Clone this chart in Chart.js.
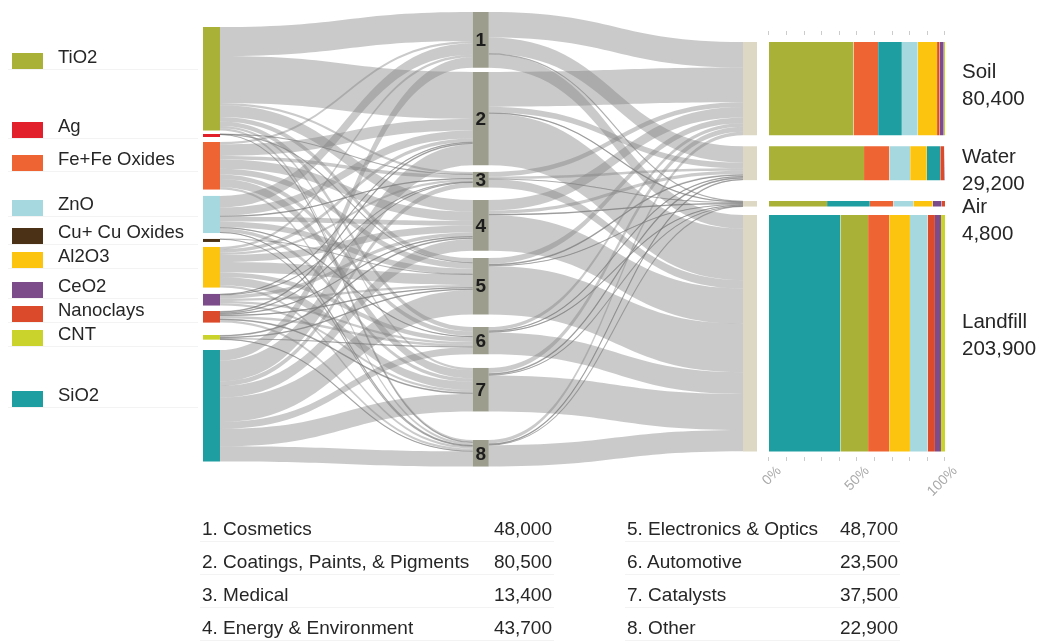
<!DOCTYPE html>
<html>
<head>
<meta charset="utf-8">
<title>Global flows of engineered nanomaterials</title>
<script src="https://cdn.jsdelivr.net/npm/chart.js"></script>
<style>
  body { margin: 0; background: #fff; font-family: "Liberation Sans", Arial, Helvetica, sans-serif; color: #262626; }
  #wrap { position: relative; width: 1041px; height: 641px; overflow: hidden; }
  #chart { position: absolute; left: 0; top: 0; }
  .key { position: absolute; left: 12px; width: 31px; height: 16px; }
  .keyText { position: absolute; left: 58px; font-size: 18.5px; line-height: 20px; white-space: nowrap; }
  .rule { position: absolute; height: 1px; background: #f3f3f3; }
  .row { position: absolute; font-size: 19px; line-height: 32.9px; white-space: nowrap; }
  .comp { position: absolute; left: 962px; font-size: 20.5px; line-height: 27px; white-space: nowrap; }
</style>
</head>
<body>
<div id="wrap">
  <canvas id="chart" width="1041" height="641"></canvas>
  <div id="legend"></div>
  <div id="table"></div>
  <div id="comps"></div>
</div>
<script>
// nanomaterials, top to bottom on the left
const materials = ['TiO2', 'Ag', 'Fe+Fe Oxides', 'ZnO', 'Cu+ Cu Oxides', 'Al2O3', 'CeO2', 'Nanoclays', 'CNT', 'SiO2'];
const materialColors = ['#a9b236', '#e2202b', '#ee6432', '#a6d8df', '#4b3217', '#fcc30f', '#7c4b89', '#db4a2b', '#c9d32b', '#1f9ea2'];

// applications (middle column)
const apps = ['Cosmetics', 'Coatings, Paints, & Pigments', 'Medical', 'Energy & Environment',
  'Electronics & Optics', 'Automotive', 'Catalysts', 'Other'];
const appTotals = [48000, 80500, 13400, 43700, 48700, 23500, 37500, 22900];

// material -> application, thousand t per year
const tio2Use = [25, 40.5, 2, 10, 4, 3.8, 2, 2];
const agUse = [0, 0, 0.3, 0, 0.1, 0, 0, 0.2];
const feUse = [2, 10, 3, 8, 5, 4, 7, 2];
const znoUse = [10, 7, 1, 4, 5, 1, 3, 1];
const cuUse = [0, 0, 0, 0, 0.1, 0, 0, 0.2];
const al2o3Use = [2, 3, 2, 6, 9, 4, 7, 2];
const ceo2Use = [0, 0.5, 0.5, 3, 2, 2, 2, 0];
const clayUse = [0, 1.5, 0.6, 1.2, 1, 2.2, 1.5, 2];
const cntUse = [0, 0, 0, 1.5, 1.5, 0.5, 0, 0.5];
const sio2Use = [9, 18, 4, 10, 21, 6, 15, 13];
const useFlows = [tio2Use, agUse, feUse, znoUse, cuUse, al2o3Use, ceo2Use, clayUse, cntUse, sio2Use];

// end of life compartments
const compartments = ['Soil', 'Water', 'Air', 'Landfill'];
const compartmentTotals = [80400, 29200, 4800, 203900];

// application -> compartment (soil, water, air, landfill), thousand t per year
const cosmeticsFate = [22, 14, 0.3, 11.7];
const coatingsFate = [30, 5, 1, 44.5];
const medicalFate = [4, 2, 0.2, 7.2];
const energyFate = [9, 3, 1.2, 30.5];
const electronicsFate = [5, 1.5, 0.5, 41.7];
const automotiveFate = [3, 1, 0.8, 18.7];
const catalystsFate = [4.4, 1.5, 0.5, 31.1];
const otherFate = [3, 1.2, 0.3, 18.4];
const fateFlows = [cosmeticsFate, coatingsFate, medicalFate, energyFate, electronicsFate, automotiveFate, catalystsFate, otherFate];

// material mix of each compartment, % (left to right)
const soilMix = ['TiO2', 'Fe+Fe Oxides', 'SiO2', 'ZnO', 'Al2O3', 'Nanoclays', 'CeO2', 'CNT'];
const soilShare = [48, 14, 13.5, 9, 11, 1.5, 2.3, 0.7];
const waterMix = ['TiO2', 'Fe+Fe Oxides', 'ZnO', 'Al2O3', 'SiO2', 'Nanoclays', 'CeO2'];
const waterShare = [54, 14.4, 11.8, 9.5, 7.6, 2.3, 0.4];
const airMix = ['TiO2', 'SiO2', 'Fe+Fe Oxides', 'ZnO', 'Al2O3', 'CeO2', 'Nanoclays'];
const airShare = [33, 24.3, 13.3, 11.4, 11, 5.1, 1.9];
const landfillMix = ['SiO2', 'TiO2', 'Fe+Fe Oxides', 'Al2O3', 'ZnO', 'Nanoclays', 'CeO2', 'CNT'];
const landfillShare = [40.6, 15.7, 12, 11.8, 10, 4.2, 3.4, 2.3];
const pctTicks = [0, 10, 20, 30, 40, 50, 60, 70, 80, 90, 100];

// layout (y in thousand t, 1.16 px each)
const PX_PER_KT = 1.16;
const nodeWidths = [17, 16, 14];
const leftStart = 23.3, leftGaps = [2.9, 6.3, 5.5, 5.1, 6.6, 5.5, 4.7, 10.7, 9.0];
const midStart = 10.3, midGaps = [3.7, 5.7, 10.8, 6.3, 10.8, 11.8, 24.6];
const rightStart = 36.2, rightGaps = [9.5, 18, 7.2];
const legendTop = [53, 122, 155, 200, 228, 252, 282, 306, 330, 391];
const compLabelTop = [57, 142, 192, 307];
const RIBBON = 'rgba(128,128,128,0.42)';

const sum = a => a.reduce((s, v) => s + v, 0);
const fmt = v => v.toLocaleString('en-US');

function stack(sizes, start, gaps) {
  let pos = start;
  return sizes.map((s, i) => {
    const n = {start: pos, end: pos + s};
    pos += s + (gaps[i] || 0);
    return n;
  });
}

const leftNodes = stack(useFlows.map(sum), leftStart, leftGaps);
const midNodes = stack(appTotals.map(v => v / 1000), midStart, midGaps);
const rightNodes = stack(compartmentTotals.map(v => v / 1000), rightStart, rightGaps);

// ribbons: leave sorted by target, arrive sorted by source
function buildLinks(matrix, src, tgt) {
  const out = src.map(n => n.start);
  const inn = tgt.map(n => n.start);
  const grid = matrix.map((row, i) => row.map(w => {
    if (w <= 0) return null;
    const l = {w, s: out[i], t: 0};
    out[i] += w;
    return l;
  }));
  tgt.forEach((n, j) => grid.forEach(row => {
    if (row[j]) { row[j].t = inn[j]; inn[j] += row[j].w; }
  }));
  return grid.flat().filter(Boolean);
}
const useLinks = buildLinks(useFlows, leftNodes, midNodes);
const fateLinks = buildLinks(fateFlows, midNodes, rightNodes);

const nodeSet = (stage, nodes, colors) => ({
  type: 'bar', xAxisID: 'x', yAxisID: 'y', grouped: false,
  maxBarThickness: nodeWidths[stage], minBarLength: 3,
  backgroundColor: colors, borderWidth: 0,
  data: nodes.map(n => ({x: stage, y: [n.start, n.end]}))
});

const shareSets = [];
[[soilMix, soilShare], [waterMix, waterShare], [airMix, airShare], [landfillMix, landfillShare]].forEach(([mix, share], c) => {
  const node = rightNodes[c];
  let acc = 0;
  mix.forEach((m, k) => {
    shareSets.push({
      type: 'line', xAxisID: 'xp', yAxisID: 'y',
      data: [{x: acc, y: node.start}, {x: acc + share[k], y: node.start}],
      fill: {value: node.end},
      backgroundColor: materialColors[materials.indexOf(m)],
      borderColor: 'rgba(0,0,0,0)', borderWidth: 0, pointRadius: 0
    });
    acc += share[k];
  });
});

const ribbonPlugin = {
  id: 'ribbons',
  beforeDatasetsDraw(chart) {
    const {ctx, scales} = chart;
    const py = v => scales.y.getPixelForValue(v);
    ctx.save();
    [[useLinks, 0, 1], [fateLinks, 1, 2]].forEach(([links, a, b]) => {
      const x0 = scales.x.getPixelForValue(a) + nodeWidths[a] / 2;
      const x1 = scales.x.getPixelForValue(b) - nodeWidths[b] / 2;
      const xm = (x0 + x1) / 2;
      links.forEach(l => {
        const y0 = py(l.s), y1 = py(l.s + l.w), y2 = py(l.t), y3 = py(l.t + l.w);
        ctx.beginPath();
        ctx.moveTo(x0, y0);
        ctx.bezierCurveTo(xm, y0, xm, y2, x1, y2);
        ctx.lineTo(x1, y3);
        ctx.bezierCurveTo(xm, y3, xm, y1, x0, y1);
        ctx.closePath();
        ctx.fillStyle = RIBBON;
        ctx.fill();
        if (y1 - y0 < 2) {
          const c0 = (y0 + y1) / 2, c1 = (y2 + y3) / 2;
          ctx.beginPath();
          ctx.moveTo(x0, c0);
          ctx.bezierCurveTo(xm, c0, xm, c1, x1, c1);
          ctx.lineWidth = 1.1;
          ctx.strokeStyle = 'rgba(110,110,110,0.5)';
          ctx.stroke();
        }
      });
    });
    ctx.restore();
  },
  afterDatasetsDraw(chart) {
    const {ctx, scales} = chart;
    ctx.save();
    ctx.font = 'bold 19px "Liberation Sans", Arial, sans-serif';
    ctx.fillStyle = '#1d1d1d';
    ctx.textAlign = 'center';
    ctx.textBaseline = 'middle';
    midNodes.forEach((n, i) => {
      ctx.fillText(String(i + 1), scales.x.getPixelForValue(1), scales.y.getPixelForValue((n.start + n.end) / 2) + 1);
    });
    ctx.restore();
  }
};

Chart.defaults.font.family = '"Liberation Sans", Arial, sans-serif';

const pctAxis = (at, labels) => ({
  type: 'linear', axis: 'x', offset: false,
  min: -436.93, max: 154.55,
  position: {y: at},
  afterBuildTicks: s => { s.ticks = pctTicks.map(value => ({value})); },
  border: {display: false},
  grid: {offset: false, drawOnChartArea: false, drawTicks: true, tickLength: 4, tickColor: '#cccccc', color: '#cccccc'},
  ticks: {
    display: labels, autoSkip: false, minRotation: 45, maxRotation: 45,
    color: '#a9a9a9', font: {size: 14}, padding: 2, labelOffset: 10,
    callback: v => (v % 50 === 0 ? v + '%' : '')
  }
});

new Chart(document.getElementById('chart'), {
  type: 'bar',
  data: {
    datasets: [
      ...shareSets,
      nodeSet(0, leftNodes, materialColors),
      nodeSet(1, midNodes, '#9c9d8c'),
      nodeSet(2, rightNodes, '#ddd8c4')
    ]
  },
  options: {
    responsive: false,
    animation: false,
    events: [],
    layout: {padding: 0},
    plugins: {legend: {display: false}, tooltip: {enabled: false}},
    scales: {
      x: {type: 'linear', axis: 'x', display: false, offset: false, grid: {offset: false}, min: -0.7855, max: 3.0808},
      y: {type: 'linear', axis: 'y', display: false, reverse: true, stacked: false, min: 0, max: 641 / PX_PER_KT},
      xp: pctAxis(rightNodes[3].end + 4.5, true),
      xt: pctAxis(rightNodes[0].start - 9.5, false)
    }
  },
  plugins: [ribbonPlugin]
});

// legend
const legend = document.getElementById('legend');
materials.forEach((m, i) => {
  const box = document.createElement('div');
  box.className = 'key';
  box.style.top = legendTop[i] + 'px';
  box.style.background = materialColors[i];
  const txt = document.createElement('div');
  txt.className = 'keyText';
  txt.style.top = (legendTop[i] - 6) + 'px';
  txt.textContent = m;
  const rule = document.createElement('div');
  rule.className = 'rule';
  rule.style.cssText = `left:8px;width:190px;top:${legendTop[i] + 16}px`;
  legend.append(rule, box, txt);
});

// application table
const table = document.getElementById('table');
apps.forEach((name, i) => {
  const col = i < 4 ? 0 : 1, r = i % 4;
  const top = 513 + r * 32.9;
  const lab = document.createElement('div');
  lab.className = 'row';
  lab.style.left = (col ? 627 : 202) + 'px';
  lab.style.top = top + 'px';
  lab.textContent = (i + 1) + '. ' + name;
  const val = document.createElement('div');
  val.className = 'row';
  val.style.right = (col ? 143 : 489) + 'px';
  val.style.top = top + 'px';
  val.textContent = fmt(appTotals[i]);
  const rule = document.createElement('div');
  rule.className = 'rule';
  rule.style.cssText = `left:${col ? 625 : 200}px;width:${col ? 275 : 354}px;top:${top + 28}px`;
  table.append(rule, lab, val);
});

// compartment labels
const comps = document.getElementById('comps');
compartments.forEach((c, i) => {
  const d = document.createElement('div');
  d.className = 'comp';
  d.style.top = compLabelTop[i] + 'px';
  d.append(c, document.createElement('br'), fmt(compartmentTotals[i]));
  comps.append(d);
});
</script>
</body>
</html>
